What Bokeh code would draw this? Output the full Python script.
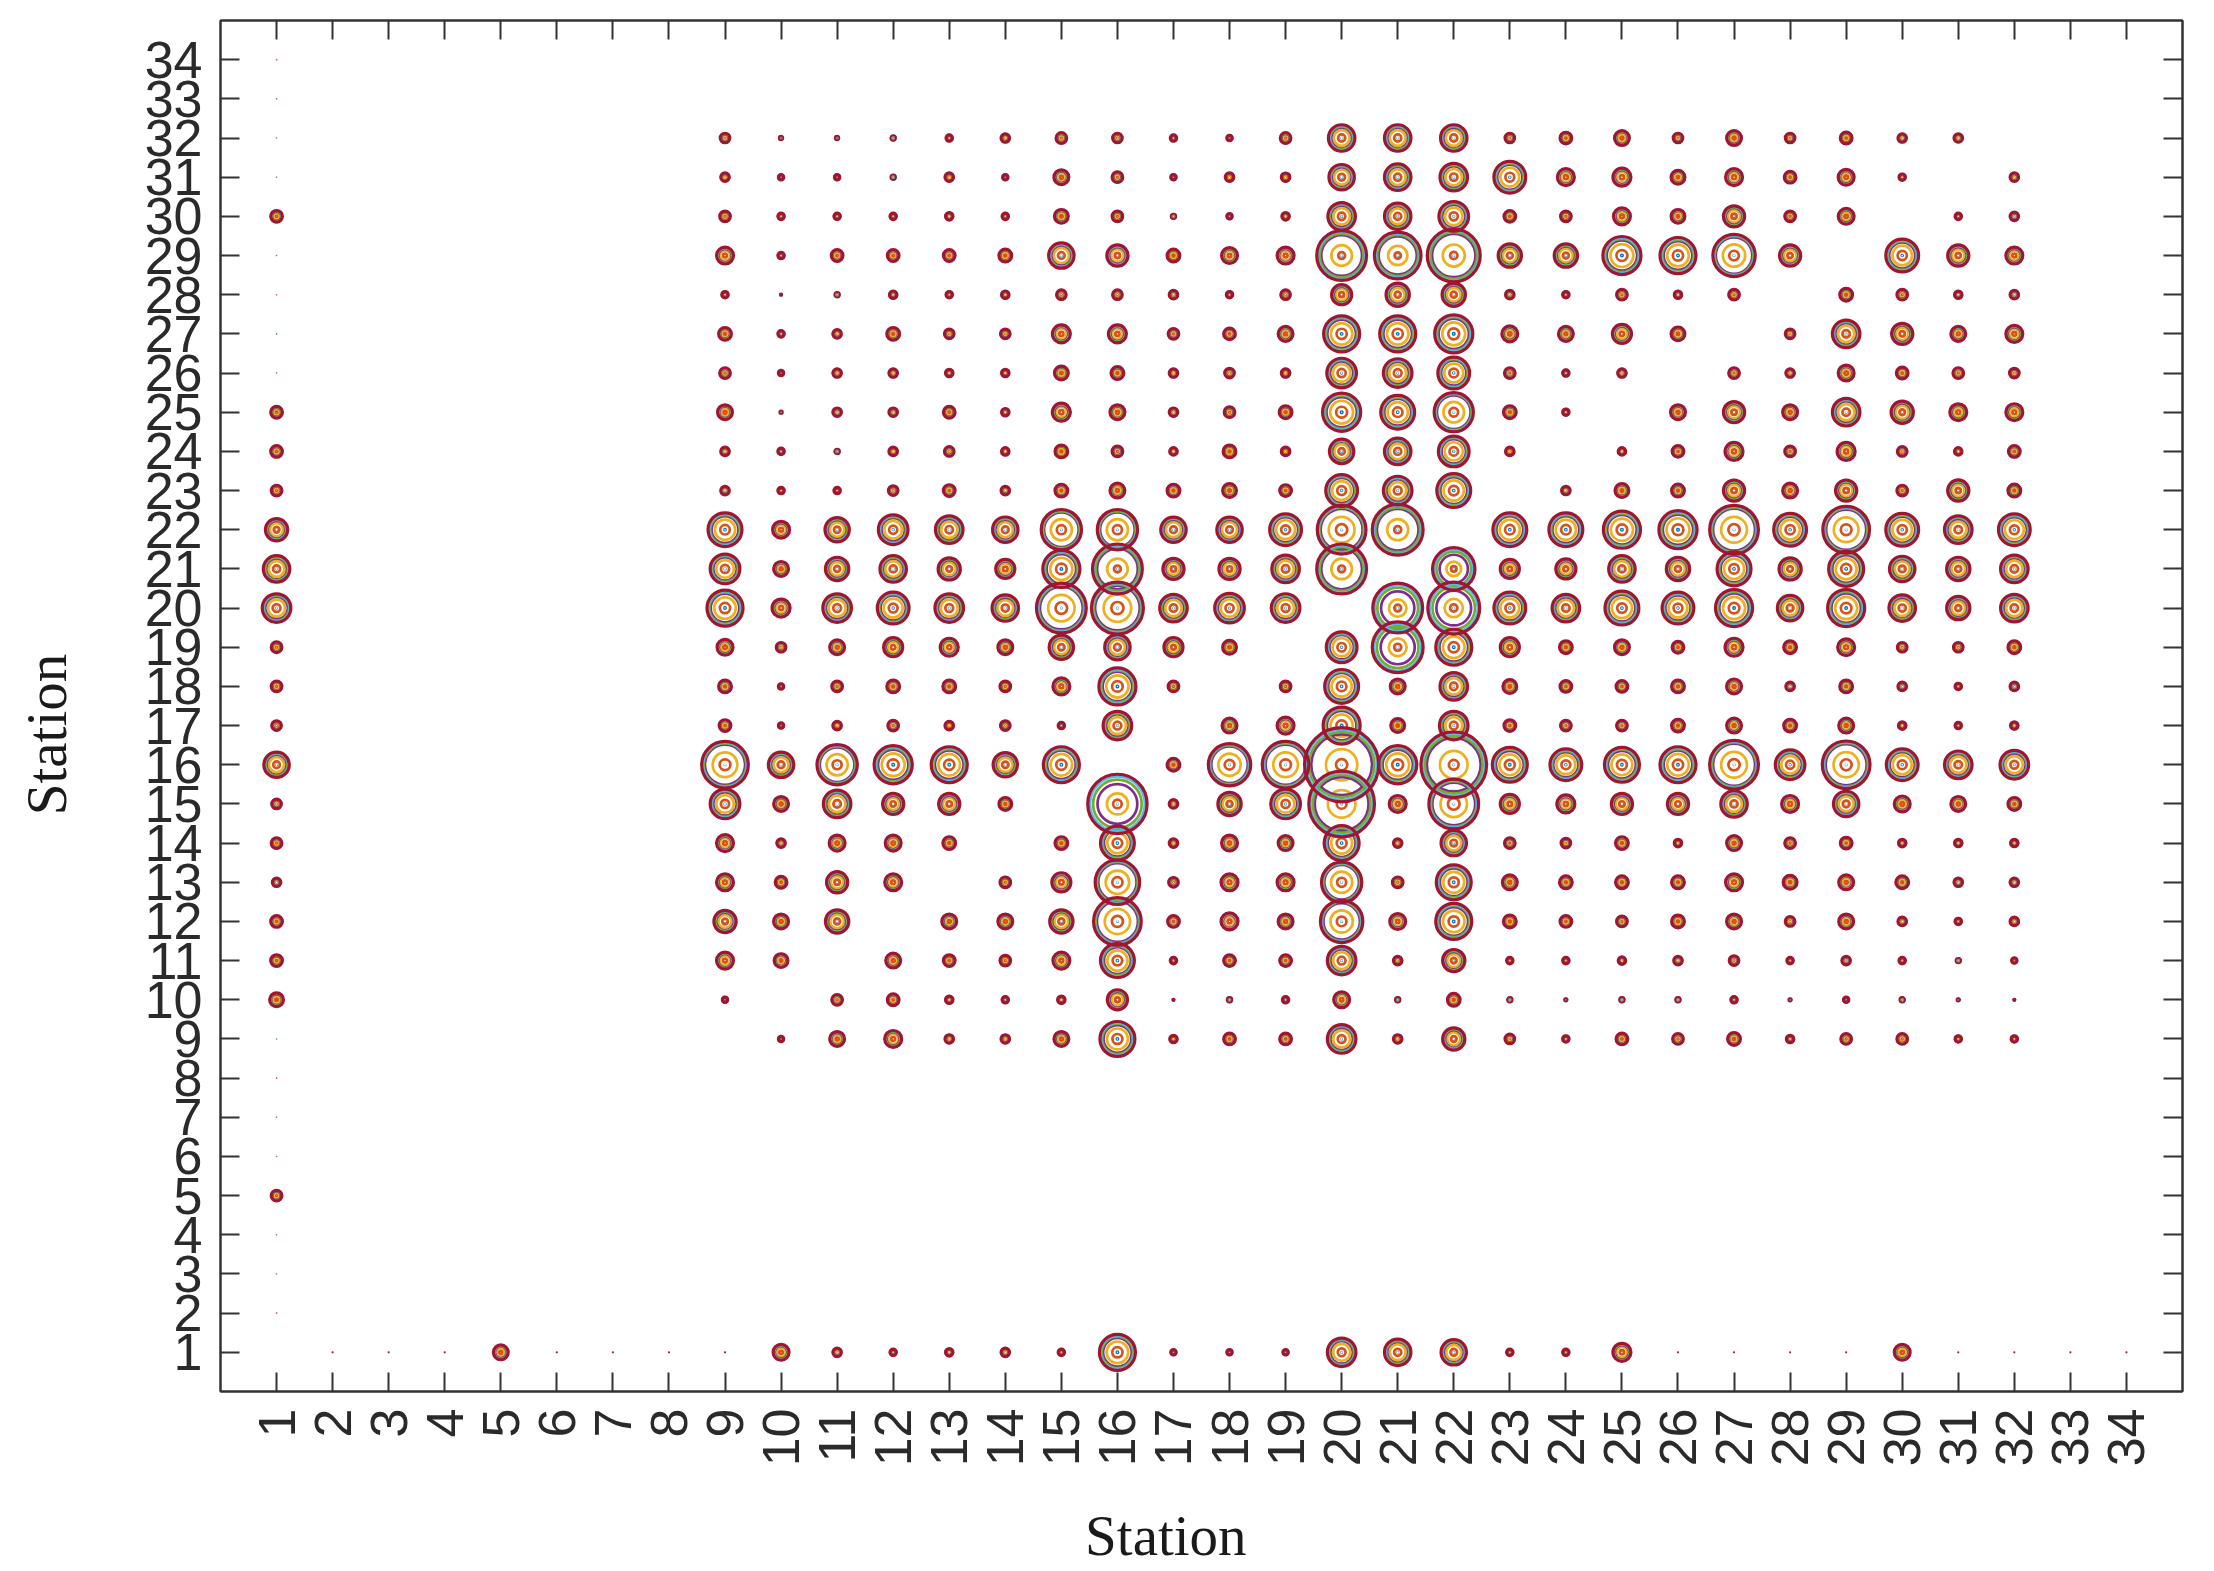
import math
from bokeh.embed import file_html
from bokeh.resources import INLINE
from bokeh.plotting import figure
from bokeh.models import FixedTicker, LinearAxis, Range1d

# Station labels
tick_stations = list(range(1, 35))
grid_x = list(range(9, 33))
axis_title = "Station"

# Outer ring diameter (px as read) for station pairs: y-station -> x = 9..32, 0 = no marker
row_32 = [12,6,6,7,9,11,13,12, 9,8,13,28,28,28,12,14, 17,12,17,12,14,11,11,0]
row_31 = [11,8,8,7,11,8,17,13, 8,11,11,27,28,29,33,19, 20,16,19,14,18,9,0,11]
row_30 = [13,9,9,9,10,9,16,13, 7,8,10,29,28,31,14,13, 19,16,23,13,18,0,9,11]
row_29 = [19,9,14,14,14,15,27,23, 15,18,19,50,47,53,25,25, 39,37,43,23,0,34,23,19]
row_28 = [9,4,7,10,9,10,12,12, 11,9,12,22,25,25,11,9, 13,10,13,0,15,13,10,11]
row_27 = [15,9,11,15,12,12,20,20, 13,14,17,37,37,39,18,17, 21,16,0,12,29,23,17,19]
row_26 = [13,8,11,11,10,10,16,15, 11,12,11,31,30,33,13,9, 11,0,13,11,18,14,13,12]
row_25 = [17,5,11,11,14,10,20,17, 11,13,15,39,35,40,15,9, 0,17,23,17,29,24,19,19]
row_24 = [11,9,7,11,12,10,15,13, 10,15,11,26,28,32,11,0, 10,14,20,13,20,12,10,14]
row_23 = [11,9,9,12,14,11,15,17, 15,16,14,33,30,35,0,11, 16,15,23,17,23,13,23,15]
row_22 = [35,19,26,31,29,27,41,41, 27,27,33,49,51,0,35,35, 38,39,49,34,47,34,29,33]
row_21 = [31,17,25,28,24,21,38,50, 23,23,29,50,0,43,21,22, 28,25,35,24,36,27,25,29]
row_20 = [37,20,30,33,30,28,50,52, 29,31,30,0,50,52,33,29, 35,33,38,27,38,28,25,29]
row_19 = [18,12,17,21,20,17,26,27, 21,16,0,32,51,37,21,15, 17,14,20,15,19,12,12,15]
row_18 = [15,8,13,15,15,13,19,38, 13,0,13,35,17,29,16,14, 14,15,17,11,15,11,9,11]
row_17 = [14,8,11,13,11,12,9,30, 0,17,19,38,16,30,14,13, 13,15,17,15,17,10,9,10]
row_16 = [47,27,41,39,37,26,37,0, 15,43,47,73,39,65,36,33, 36,37,49,31,48,33,29,30]
row_15 = [31,17,29,23,23,15,0,59, 11,25,31,65,19,50,21,20, 23,23,28,19,27,18,17,15]
row_14 = [19,11,18,18,15,0,15,35, 11,18,17,36,11,27,13,12, 15,10,17,13,14,10,10,10]
row_13 = [19,14,23,19,0,13,21,45, 12,19,19,41,13,36,17,15, 15,15,19,16,17,15,11,11]
row_12 = [24,17,25,0,17,17,25,48, 14,19,17,43,18,37,15,14, 13,15,17,12,17,11,9,11]
row_11 = [19,16,0,17,14,13,19,35, 9,14,14,30,11,24,9,9, 10,11,12,9,11,9,7,8]
row_10 = [8,0,13,14,10,9,10,22, 4,7,9,18,7,15,7,5, 7,7,9,5,8,7,5,4]
row_9  = [0,8,17,19,11,11,17,36, 10,14,14,30,11,24,12,9, 14,13,15,10,13,13,9,9]
grid_rows = {32: row_32, 31: row_31, 30: row_30, 29: row_29, 28: row_28, 27: row_27, 26: row_26,
             25: row_25, 24: row_24, 23: row_23, 22: row_22, 21: row_21, 20: row_20, 19: row_19,
             18: row_18, 17: row_17, 16: row_16, 15: row_15, 14: row_14, 13: row_13, 12: row_12,
             11: row_11, 10: row_10, 9: row_9}

# First column (x = 1), y = 2..34
col_1_y = list(range(2, 35))
col_1 = [1.5,1.5,1.5,13,1.5,1.5,1.5,1.5,
         16,14,14,11,13,12,27,12,13,13,30,28,24,13,14,14,
         1.5,1.5,1.5,1.5,14,1.5,1.5,1.5,1.5]

# Bottom row (y = 1), x = 2..34
row_1_x = list(range(2, 35))
row_1 = [2,2,2,17,2,2,2,2,18,11,9,10,11,9,37,8,8,8,30,28,27,9,9,20,2,2,2,2,18,2,2,2,2]

# Ring colours, inside to outside
ring_colors = ["#0072BD", "#D95319", "#EDB120", "#7E2F8E", "#77AC30", "#4DBEEE", "#A2142F"]
small_fracs = [0.10, 0.33, 0.62, 0.80, 0.87, 0.93, 1.0]
big_fracs   = [0.05, 0.27, 0.55, 0.86, 0.91, 0.95, 1.0]
gap_fracs   = [0.04, 0.18, 0.44, 0.82, 0.88, 0.95, 1.0]
wide_fracs  = [0.04, 0.18, 0.38, 0.68, 0.82, 0.92, 1.0]
gap_cells  = {(20,29),(21,29),(22,29),(20,16),(22,16),(20,15),(20,21),(21,22),(16,21)}
wide_cells = {(16,15),(21,20),(22,20),(21,19),(22,21)}

points = []
for y, vals in grid_rows.items():
    points += [(x, y, d) for x, d in zip(grid_x, vals) if d > 0]
points += [(1, y, d) for y, d in zip(col_1_y, col_1)]
points += [(x, 1, d) for x, d in zip(row_1_x, row_1)]

p = figure(width=2198, height=1570, output_backend="svg", toolbar_location=None,
           x_range=Range1d(0, 35), y_range=Range1d(0, 35),
           min_border_left=220, min_border_right=16, min_border_top=20, min_border_bottom=176,
           x_axis_location=None, y_axis_location=None)
p.grid.visible = False
p.outline_line_color = "#333333"
p.outline_line_width = 2
p.background_fill_color = "white"

for i, col in enumerate(ring_colors):
    xs, ys, sz, lw = [], [], [], []
    for x, y, d in points:
        if (x, y) in wide_cells:
            fr = wide_fracs
        elif (x, y) in gap_cells:
            fr = gap_fracs
        elif d >= 40:
            fr = big_fracs
        else:
            fr = small_fracs
        w = 2.7 if d >= 8 else (1.8 if d >= 4 else 1.2)
        if i == 6 and d >= 8:
            w = 3.2
        if d < 4 and i < 6:
            continue
        xs.append(x); ys.append(y); lw.append(w)
        sz.append(max(d * 1.06 * fr[i] - w, 0.4))
    p.scatter(x=xs, y=ys, size=sz, marker="circle", fill_color=None, line_color=col, line_width=lw)

FONT = "Liberation Sans"
def style(ax, labels, standoff=0):
    ax.ticker = FixedTicker(ticks=tick_stations)
    ax.major_tick_in = 19
    ax.major_tick_out = 0
    ax.minor_tick_line_color = None
    ax.major_tick_line_color = "#333333"
    ax.major_tick_line_width = 2
    ax.axis_line_color = "#333333"
    ax.axis_line_width = 2
    if labels:
        ax.major_label_text_font = FONT
        ax.major_label_text_font_size = "52px"
        ax.major_label_text_color = "#2a2a2a"
        ax.major_label_standoff = standoff
        ax.axis_label_text_font = "Liberation Serif"
        ax.axis_label_text_font_size = "57px"
        ax.axis_label_text_font_style = "normal"
        ax.axis_label_text_color = "#1a1a1a"
    else:
        ax.major_label_text_font_size = "0px"
        ax.major_label_text_color = None
        ax.major_label_standoff = 0

NB = "\u00a0"
bottom = LinearAxis(axis_label=axis_title + NB * 5, axis_label_standoff=35)
style(bottom, True, 17); bottom.major_label_orientation = math.pi / 2
left = LinearAxis(axis_label=axis_title + NB * 4, axis_label_standoff=64)
style(left, True, 18)
top = LinearAxis(); style(top, False)
right = LinearAxis(); style(right, False)
p.add_layout(bottom, "below")
p.add_layout(left, "left")
p.add_layout(top, "above")
p.add_layout(right, "right")

open("out.html", "w").write(file_html(p, INLINE))
